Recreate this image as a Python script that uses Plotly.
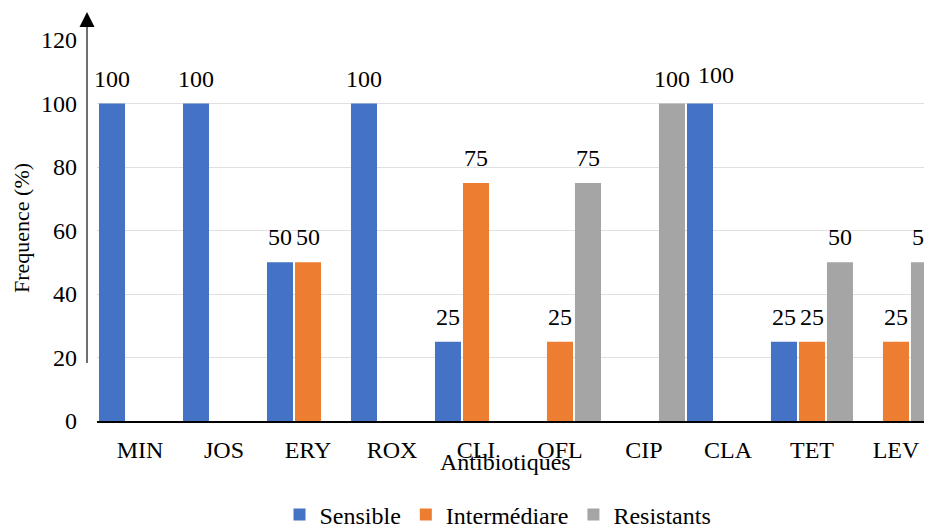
import plotly.graph_objects as go

categories = ["MIN", "JOS", "ERY", "ROX", "CLI", "OFL", "CIP", "CLA", "TET", "LEV"]
sensible = [100, 100, 50, 100, 25, None, None, 100, 25, None]
intermediaire = [None, None, 50, None, 75, 25, None, None, 25, 25]
resistants = [None, None, None, None, None, 75, 100, None, 50, 50]
series_names = ["Sensible", "Intermédiare", "Resistants"]
y_ticks = [0, 20, 40, 60, 80, 100, 120]

colors = ["#4472C4", "#ED7D31", "#A5A5A5"]
FONT = "Liberation Serif"
FS = 24
OFF = 8  # browser body margin
W, H = 932 - OFF, 529 - OFF
ML, MR, MT = 97 - OFF, 0, 40 - OFF
PH = 381
MB = H - MT - PH
PW = W - ML - MR

# label nudges (px) to avoid collision, as in the original
label_nudge = {(0, "CLA"): (16, 4)}

fig = go.Figure()
all_series = [sensible, intermediaire, resistants]
for name, vals, col in zip(series_names, all_series, colors):
    fig.add_trace(go.Bar(x=categories, y=vals, name=name, marker_color=col,
                         marker_line_width=0))

# value labels above bars
slot = 84 / 3
for k, vals in enumerate(all_series):
    for cat, v in zip(categories, vals):
        if v is None:
            continue
        dx, dy = label_nudge.get((k, cat), (0, 0))
        fig.add_annotation(x=cat, y=v, text=str(v), showarrow=False,
                           xshift=(k - 1) * slot + dx, yshift=25 + dy,
                           yanchor="middle", xanchor="center",
                           font=dict(family=FONT, size=FS, color="#000"))

def px_x(x):  # screen px -> paper
    return (x - OFF - ML) / PW

def px_y(y):
    return (H - MB - (y - OFF)) / PH

# y axis arrow line
fig.add_shape(type="line", xref="paper", yref="paper",
              x0=px_x(87), x1=px_x(87), y0=px_y(363), y1=px_y(22),
              line=dict(color="#404040", width=1.5))
fig.add_shape(type="path", xref="paper", yref="paper",
              path=f"M {px_x(79.5)} {px_y(27)} L {px_x(94.5)} {px_y(27)} L {px_x(87)} {px_y(12)} Z",
              fillcolor="#000", line=dict(width=0))

fig.add_annotation(text="Frequence (%)", xref="paper", yref="paper",
                   x=px_x(21), y=px_y(228), textangle=-90, showarrow=False,
                   xanchor="center", yanchor="middle", borderpad=0,
                   font=dict(family=FONT, size=22, color="#000"))
fig.add_annotation(text="Antibiotiques", xref="paper", yref="paper",
                   x=px_x(505), y=px_y(462), showarrow=False,
                   xanchor="center", yanchor="middle",
                   font=dict(family=FONT, size=FS, color="#000"))

fig.update_layout(
    width=W, height=H,
    margin=dict(l=ML, r=MR, t=MT, b=MB, autoexpand=False),
    plot_bgcolor="white", paper_bgcolor="white",
    barmode="group", bargap=0, bargroupgap=0.07,
    font=dict(family=FONT, size=FS, color="#000"),
    showlegend=True,
    legend=dict(orientation="h", x=px_x(498), xanchor="center",
                y=px_y(515), yanchor="middle",
                font=dict(family=FONT, size=FS, color="#000"),
                itemwidth=30, borderwidth=0),
    xaxis=dict(range=[-0.512, 9.429], showline=True, linecolor="#000",
               linewidth=1.5, ticks="", showgrid=False,
               tickfont=dict(family=FONT, size=FS, color="#000"),
               ticklabelstandoff=6),
    yaxis=dict(range=[0, 120], tickvals=y_ticks, showline=False,
               showgrid=True, gridcolor="#e0e0e0", gridwidth=1,
               zeroline=False, ticks="",
               tickfont=dict(family=FONT, size=FS, color="#000"),
               ticklabelstandoff=19),
)

fig.write_html("out.html")
